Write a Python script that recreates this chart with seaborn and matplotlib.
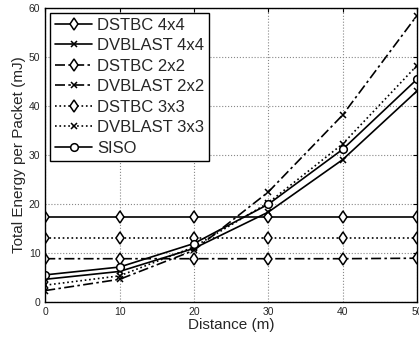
import pandas as pd
import seaborn as sns
import matplotlib.pyplot as plt

# ----------- Data --------------------------------------------

distance = [0, 10, 20, 30, 40, 50]

dstbc_4x4 = [17.3, 17.3, 17.3, 17.3, 17.3, 17.3]
dvblast_4x4 = [4.6, 6.2, 10.9, 18.3, 29.0, 43.0]
dstbc_2x2 = [8.8, 8.8, 8.8, 8.8, 8.8, 8.9]
dvblast_2x2 = [2.3, 4.6, 10.5, 22.4, 38.1, 58.4]
dstbc_3x3 = [13.0, 13.0, 13.0, 13.0, 13.0, 13.0]
dvblast_3x3 = [3.4, 5.3, 11.2, 20.2, 32.2, 48.2]
siso = [5.5, 7.1, 11.9, 19.9, 31.1, 45.4]

series = [
    ("DSTBC 4x4", dstbc_4x4, "-", "d", 6),
    ("DVBLAST 4x4", dvblast_4x4, "-", "x", 4),
    ("DSTBC 2x2", dstbc_2x2, (0, (6, 2, 1.5, 2)), "d", 6),
    ("DVBLAST 2x2", dvblast_2x2, (0, (6, 2, 1.5, 2)), "x", 4),
    ("DSTBC 3x3", dstbc_3x3, ":", "d", 6),
    ("DVBLAST 3x3", dvblast_3x3, ":", "x", 4),
    ("SISO", siso, "-", "o", 5.5),
]

# ----------- Build Chart ---------------------

sns.set_style("white")
plt.rcParams['font.family'] = ['Liberation Sans', 'DejaVu Sans']

fig = plt.figure(figsize=(4.19, 3.38), dpi=100)
ax = fig.add_axes([0.108, 0.107, 0.887, 0.870])

for name, values, ls, mk, ms in series:
    df = pd.DataFrame({"distance": distance, "energy": values})
    sns.lineplot(data=df, x="distance", y="energy", ax=ax, color="black",
                 linestyle=ls, linewidth=1.2, marker=mk, markersize=ms,
                 markerfacecolor="white", markeredgecolor="black",
                 markeredgewidth=1.1, label=name)

ax.set_xlim(0, 50)
ax.set_ylim(0, 60)
ax.set_xticks([0, 10, 20, 30, 40, 50])
ax.set_yticks([0, 10, 20, 30, 40, 50, 60])
ax.tick_params(direction="in", top=True, right=True, labelsize=7.5,
               length=3, color="black")
ax.grid(True, linestyle=":", color="#888888", linewidth=0.8)
for sp in ax.spines.values():
    sp.set_color("black")
    sp.set_linewidth(1.0)

ax.set_xlabel("Distance (m)", fontsize=11, labelpad=1)
ax.set_ylabel("Total Energy per Packet (mJ)", fontsize=11, labelpad=2)

leg = ax.legend(loc="upper left", fontsize=12, frameon=True, fancybox=False,
                handlelength=2.2, handletextpad=0.3, labelspacing=0.33,
                borderpad=0.3, borderaxespad=0.3, edgecolor="black",
                framealpha=1)
leg.get_frame().set_linewidth(1.0)

plt.savefig("out.png", dpi=100)
